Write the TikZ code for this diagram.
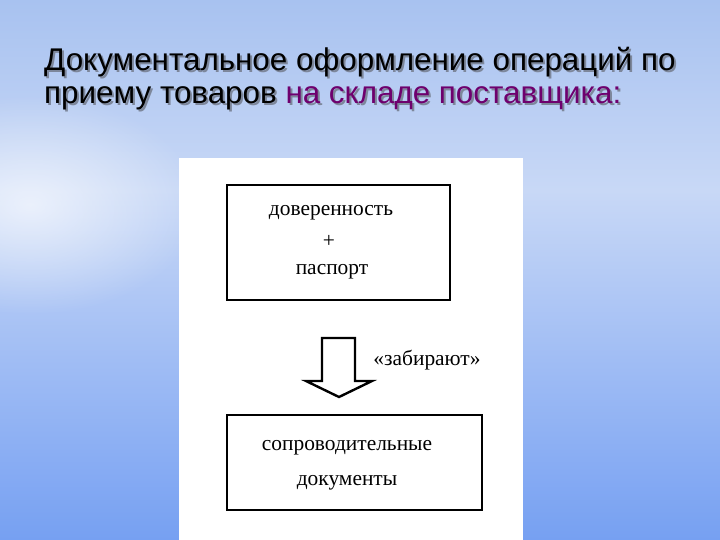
\documentclass[tikz,border=0pt]{standalone}
\usepackage{fontspec}
\setmainfont{Liberation Serif}
\newfontfamily\titlefont{Liberation Sans}
\usetikzlibrary{fadings}

\definecolor{skytop}{RGB}{168,194,240}
\definecolor{skymid}{RGB}{200,216,246}
\definecolor{skybot}{RGB}{118,160,242}
\definecolor{titlepurple}{RGB}{110,0,110}
\definecolor{titleshadow}{RGB}{125,135,155}

\tikzfading[name=glow, inner color=transparent!0, outer color=transparent!100]

% title line with its grey shadow in the same node
\newcommand{\shadowline}[2]{\makebox[0pt][l]{\hspace{2bp}\raisebox{-2bp}{\textcolor{titleshadow}{#1}}}#2}

\tikzset{
  title text/.style={anchor=base west, inner sep=0pt, align=left, font=\titlefont\fontsize{31.5}{34}\selectfont},
  doc box/.style={draw=black, line width=1.6bp},
  doc text/.style={inner sep=0pt, font=\fontsize{21.5}{24}\selectfont},
}

\begin{document}
\begin{tikzpicture}[x=1bp,y=-1bp]
% Drawing background
\useasboundingbox (0,0) rectangle (720,540);
\shade [top color=skytop, bottom color=skymid] (0,0) rectangle (720,190);
\shade [top color=skymid, bottom color=skybot] (0,190) rectangle (720,540);
\fill [white, opacity=0.65, path fading=glow] (30,205) ellipse (170 and 110);

% Drawing title (base = baseline of the last line)
\node [title text] (title) at (44,104) {\shadowline{Документальное оформление операций по}{Документальное оформление операций по}\\
  \shadowline{приему товаров на складе поставщика:}{приему товаров \textcolor{titlepurple}{на складе поставщика:}}};

% Drawing white sheet
\fill [white] (179,158) rectangle (523,540);

% Drawing boxes
\draw [doc box] (227,185) rectangle (450,300);
\node [doc text] (dover) at (331,213) {доверенность};
\node [doc text] (plus) at (329,241) {+};
\node [doc text] (pasport) at (332,272) {паспорт};

\draw [doc box] (227,415) rectangle (482,510);
\node [doc text] (soprov) at (347,448) {сопроводительные};
\node [doc text] (dokum) at (347,483) {документы};

% Drawing block arrow
\coordinate (tip) at (339,397);
\draw [line width=2.4bp, line join=miter] (322,338) -- (355,338) -- (355,381) -- (372,381) -- (tip) -- (306,381) -- (322,381) -- cycle;
\node [doc text] (zabir) at (427,360) {«забирают»};
\end{tikzpicture}
\end{document}
